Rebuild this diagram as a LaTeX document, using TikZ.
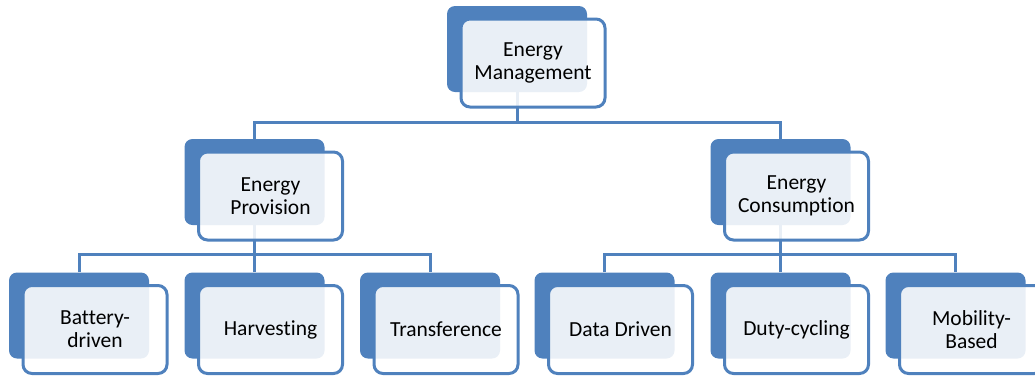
\documentclass[tikz,border=0pt]{standalone}
\usepackage{fontspec}
\setmainfont{Carlito}[Ligatures=NoCommon]
\usetikzlibrary{calc}
\definecolor{tileblue}{HTML}{4F81BD}
\tikzset{
  tileback/.style={fill=tileblue, rounded corners=8pt, minimum width=140pt, minimum height=86pt, inner sep=0pt},
  tilefront/.style={draw=tileblue, line width=3pt, fill=white, fill opacity=0.88, text opacity=1, rounded corners=9pt, minimum width=144pt, minimum height=88pt, inner sep=0pt, align=center, text=black, font=\fontsize{21.5}{23}\selectfont},
  wire/.style={draw=tileblue, line width=3pt}
}

\begin{document}
\begin{tikzpicture}[x=1pt, y=1pt]
			%%%%% START %%%%%
			\useasboundingbox (0,0) rectangle (1035,-376);
			
			\node[tileback] (mgmtb) at (517,-49) {};
			
			\node[tileback] (provb) at (254.5,-182) {};
			\node[tileback] (consb) at (780.5,-182) {};
			
			\node[tileback] (battb) at (79,-315.5) {};
			\node[tileback] (harvb) at (254.5,-315.5) {};
			\node[tileback] (tranb) at (430,-315.5) {};
			\node[tileback] (datab) at (604.5,-315.5) {};
			\node[tileback] (dutyb) at (780.5,-315.5) {};
			\node[tileback] (mobib) at (955.5,-315.5) {};
			
			\coordinate (mgmtbus) at ($(mgmtb.south)+(0,-30)$);
			\draw[wire] (mgmtb.south) -- (mgmtbus);
			\draw[wire] (provb.north) |- (mgmtbus) -| (consb.north);
			
			\coordinate (provbus) at ($(provb.south)+(0,-29)$);
			\draw[wire] (provb.south) -- (provbus);
			\draw[wire] (battb.north) |- (provbus) -| (tranb.north);
			\draw[wire] (harvb.north) -- (provbus);
			
			\coordinate (consbus) at ($(consb.south)+(0,-29)$);
			\draw[wire] (consb.south) -- (consbus);
			\draw[wire] (datab.north) |- (consbus) -| (mobib.north);
			\draw[wire] (dutyb.north) -- (consbus);
			
			\node[tilefront] (mgmt) at ($(mgmtb)+(16,-14)$) {Energy\\Management};
			
			\node[tilefront] (prov) at ($(provb)+(16,-14)$) {Energy\\Provision};
			\node[tilefront] (cons) at ($(consb)+(16,-14)$) {Energy\\Consumption};
			
			\node[tilefront] (batt) at ($(battb)+(16,-14)$) {Battery-\\driven};
			\node[tilefront] (harv) at ($(harvb)+(16,-14)$) {Harvesting};
			\node[tilefront] (tran) at ($(tranb)+(16,-14)$) {Transference};
			\node[tilefront] (data) at ($(datab)+(16,-14)$) {Data Driven};
			\node[tilefront] (duty) at ($(dutyb)+(16,-14)$) {Duty-cycling};
			\node[tilefront] (mobi) at ($(mobib)+(16,-14)$) {Mobility-\\Based};
			
			%%%%% END %%%%%
\end{tikzpicture}
\end{document}
